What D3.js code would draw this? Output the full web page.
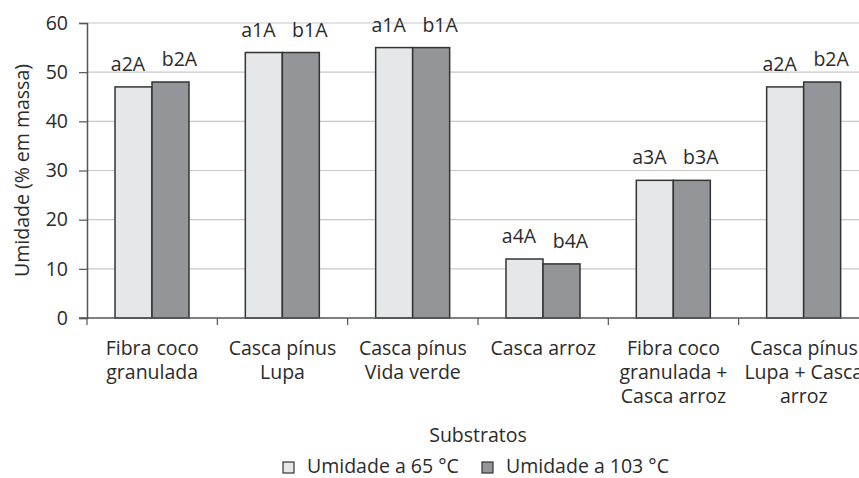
<!DOCTYPE html>
<html>
<head>
<meta charset="utf-8">
<script src="https://cdn.jsdelivr.net/npm/d3@7"></script>
<style>
  html, body { margin: 0; padding: 0; background: #fff; }
  svg { display: block; font-family: "Open Sans", "Noto Sans", sans-serif; }
</style>
</head>
<body>
<svg id="chart" width="859" height="478"></svg>
<script>
const categories = [
  ["Fibra coco", "granulada"],
  ["Casca pínus", "Lupa"],
  ["Casca pínus", "Vida verde"],
  ["Casca arroz"],
  ["Fibra coco", "granulada +", "Casca arroz"],
  ["Casca pínus", "Lupa + Casca", "arroz"]
];
const seriesNames = ["Umidade a 65 °C", "Umidade a 103 °C"];
const values65 = [47, 54, 55, 12, 28, 47];
const values103 = [48, 54, 55, 11, 28, 48];
const labels65 = ["a2A", "a1A", "a1A", "a4A", "a3A", "a2A"];
const labels103 = ["b2A", "b1A", "b1A", "b4A", "b3A", "b2A"];
const yTicks = [0, 10, 20, 30, 40, 50, 60];

const fills = ["#e6e7e8", "#939598"];
const textColor = "#2b2b2b";
const fontSize = 19.5;

const svg = d3.select("#chart");
const plotLeft = 87, plotTop = 23, plotBottom = 318;
const bandW = 130.33;
const catKeys = categories.map((c, i) => i);

const x = d3.scaleBand().domain(catKeys).range([plotLeft, plotLeft + bandW * categories.length]).padding(0);
const xs = d3.scaleBand().domain([0, 1]).range([28, 28 + 74]).padding(0);
const y = d3.scaleLinear().domain([0, 60]).range([plotBottom, plotTop]);
const labelShift = [-5.5, 9];

// gridlines
svg.append("g").selectAll("line").data(yTicks.filter(t => t > 0)).join("line")
  .attr("x1", plotLeft).attr("x2", 859)
  .attr("y1", d => y(d)).attr("y2", d => y(d))
  .attr("stroke", "#c8c8c8").attr("stroke-width", 1.2);

// y axis
const yAxis = d3.axisLeft(y).tickValues(yTicks).tickSize(8).tickPadding(11).tickFormat(d3.format("d"));
const gy = svg.append("g").attr("transform", `translate(${plotLeft},0)`).call(yAxis);
gy.select(".domain").attr("stroke", "#555").attr("stroke-width", 1.5);
gy.selectAll(".tick line").attr("stroke", "#555").attr("stroke-width", 1.2);
gy.selectAll(".tick text").attr("fill", textColor).style("font-size", fontSize + "px")
  .style("font-family", "'Open Sans', sans-serif");

// bars
const data = catKeys.map(i => ({
  i,
  vals: [
    { s: 0, v: values65[i], lab: labels65[i] },
    { s: 1, v: values103[i], lab: labels103[i] }
  ]
}));

const groups = svg.append("g").selectAll("g").data(data).join("g")
  .attr("transform", d => `translate(${x(d.i)},0)`);

groups.selectAll("rect").data(d => d.vals).join("rect")
  .attr("x", d => xs(d.s))
  .attr("width", xs.bandwidth())
  .attr("y", d => y(d.v))
  .attr("height", d => y(0) - y(d.v))
  .attr("fill", d => fills[d.s])
  .attr("stroke", "#333")
  .attr("stroke-width", 1.5);

groups.selectAll("text").data(d => d.vals).join("text")
  .attr("x", d => xs(d.s) + xs.bandwidth() / 2 + labelShift[d.s])
  .attr("y", d => y(d.v) - 16)
  .attr("text-anchor", "middle")
  .attr("fill", textColor)
  .style("font-size", fontSize + "px")
  .text(d => d.lab);

// x axis
const xAxis = d3.axisBottom(x).tickSize(0).tickFormat("");
const gx = svg.append("g").attr("transform", `translate(0,${plotBottom})`).call(xAxis);
gx.select(".domain").remove();
svg.append("line").attr("x1", plotLeft - 8).attr("x2", 859).attr("y1", plotBottom).attr("y2", plotBottom)
  .attr("stroke", "#555").attr("stroke-width", 1.5);
// boundary ticks
const boundaries = catKeys.map(i => x(i));
svg.append("g").selectAll("line").data(boundaries).join("line")
  .attr("x1", d => d).attr("x2", d => d)
  .attr("y1", plotBottom).attr("y2", plotBottom + 7)
  .attr("stroke", "#555").attr("stroke-width", 1.2);

// category labels
const catText = svg.append("g").selectAll("text").data(data).join("text")
  .attr("text-anchor", "middle")
  .attr("fill", textColor)
  .style("font-size", fontSize + "px");
catText.selectAll("tspan").data(d => categories[d.i].map(l => ({ l, cx: x(d.i) + x.bandwidth() / 2 }))).join("tspan")
  .attr("x", d => d.cx)
  .attr("y", (d, j) => 355 + j * 24)
  .text(d => d.l);

// axis titles
svg.append("text")
  .attr("x", 478).attr("y", 442)
  .attr("text-anchor", "middle").attr("fill", textColor)
  .style("font-size", fontSize + "px")
  .text("Substratos");

svg.append("text")
  .attr("transform", `translate(29,${(plotTop + plotBottom) / 2}) rotate(-90)`)
  .attr("text-anchor", "middle").attr("fill", textColor)
  .style("font-size", fontSize + "px")
  .text("Umidade (% em massa)");

// legend
const legendItems = [
  { s: 0, x: 283 },
  { s: 1, x: 482 }
];
const lg = svg.append("g").selectAll("g").data(legendItems).join("g")
  .attr("transform", d => `translate(${d.x},462)`);
lg.append("rect").attr("width", 11).attr("height", 11)
  .attr("fill", d => fills[d.s]).attr("stroke", "#333").attr("stroke-width", 1.2);
lg.append("text").attr("x", 24).attr("y", 10.5)
  .attr("fill", textColor).style("font-size", fontSize + "px")
  .text(d => seriesNames[d.s]);
</script>
</body>
</html>
